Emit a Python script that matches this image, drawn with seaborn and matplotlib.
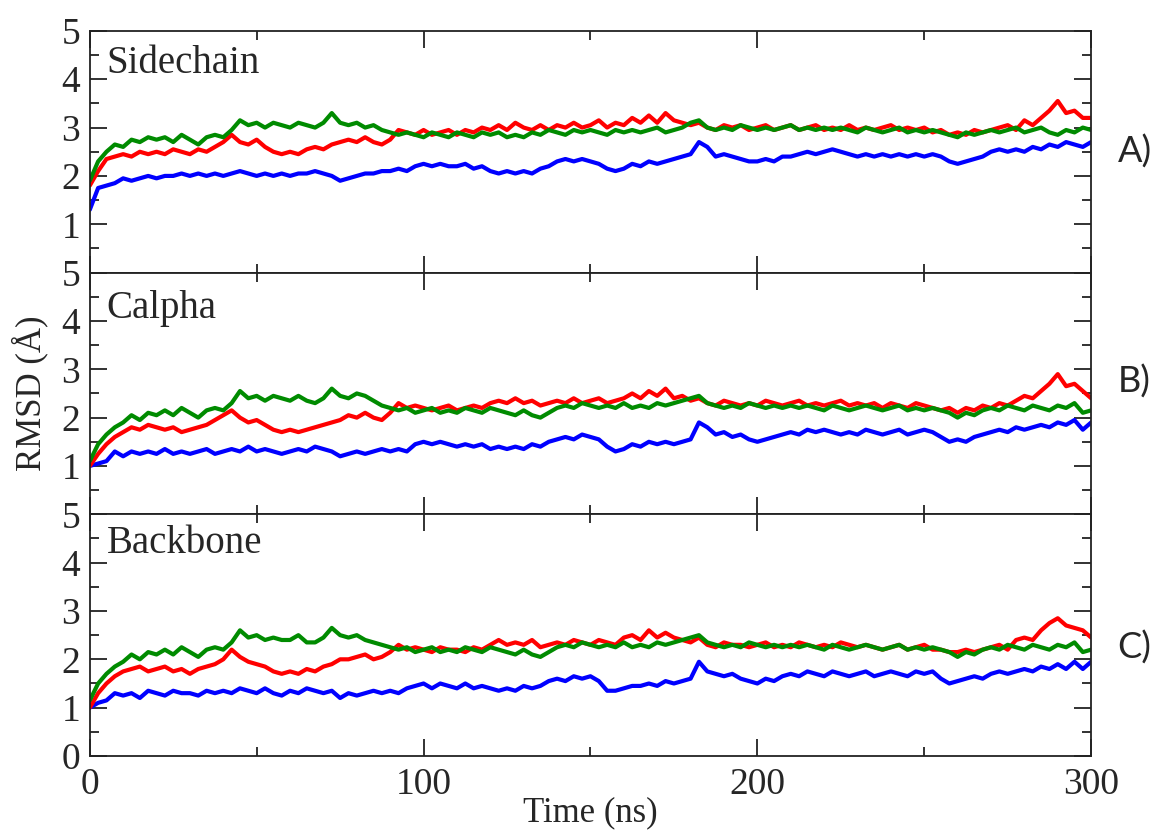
import numpy as np
import pandas as pd
import matplotlib
matplotlib.use('Agg')
import matplotlib.pyplot as plt
import seaborn as sns
from matplotlib.ticker import MultipleLocator

# time axis of the trajectories, one sample every 2.5 ns
time_ns = np.arange(0, 300.1, 2.5)

# RMSD values (Angstrom)
side_blue = [1.3, 1.75, 1.8, 1.85, 1.95, 1.9, 1.95, 2.0, 1.95, 2.0, 2.0, 2.05,
             2.0, 2.05, 2.0, 2.05, 2.0, 2.05, 2.1, 2.05, 2.0, 2.05, 2.0, 2.05,
             2.0, 2.05, 2.05, 2.1, 2.05, 2.0, 1.9, 1.95, 2.0, 2.05, 2.05, 2.1,
             2.1, 2.15, 2.1, 2.2, 2.25, 2.2, 2.25, 2.2, 2.2, 2.25, 2.15, 2.2,
             2.1, 2.05, 2.1, 2.05, 2.1, 2.05, 2.15, 2.2, 2.3, 2.35, 2.3, 2.35,
             2.3, 2.25, 2.15, 2.1, 2.15, 2.25, 2.2, 2.3, 2.25, 2.3, 2.35, 2.4,
             2.45, 2.7, 2.6, 2.4, 2.45, 2.4, 2.35, 2.3, 2.3, 2.35, 2.3, 2.4,
             2.4, 2.45, 2.5, 2.45, 2.5, 2.55, 2.5, 2.45, 2.4, 2.45, 2.4, 2.45,
             2.4, 2.45, 2.4, 2.45, 2.4, 2.45, 2.4, 2.3, 2.25, 2.3, 2.35, 2.4,
             2.5, 2.55, 2.5, 2.55, 2.5, 2.6, 2.55, 2.65, 2.6, 2.7, 2.65, 2.6,
             2.7]
side_red = [1.8, 2.1, 2.35, 2.4, 2.45, 2.4, 2.5, 2.45, 2.5, 2.45, 2.55, 2.5,
            2.45, 2.55, 2.5, 2.6, 2.7, 2.85, 2.7, 2.65, 2.75, 2.6, 2.5, 2.45,
            2.5, 2.45, 2.55, 2.6, 2.55, 2.65, 2.7, 2.75, 2.7, 2.8, 2.7, 2.65,
            2.75, 2.95, 2.9, 2.85, 2.95, 2.85, 2.9, 2.95, 2.85, 2.95, 2.9, 3.0,
            2.95, 3.05, 2.95, 3.1, 3.0, 2.95, 3.05, 2.95, 3.05, 3.0, 3.1, 3.0,
            3.05, 3.15, 3.0, 3.1, 3.05, 3.2, 3.1, 3.25, 3.1, 3.3, 3.15, 3.1,
            3.05, 3.1, 3.0, 2.95, 3.05, 3.0, 3.05, 2.95, 3.0, 3.05, 2.95, 3.0,
            3.05, 2.95, 3.0, 3.05, 2.95, 3.0, 2.95, 3.05, 2.95, 3.0, 2.95, 3.0,
            3.05, 2.95, 3.0, 2.95, 3.0, 2.9, 2.95, 2.85, 2.9, 2.85, 2.95, 2.9,
            2.95, 3.0, 3.05, 2.95, 3.15, 3.05, 3.2, 3.35, 3.55, 3.3, 3.35, 3.2,
            3.2]
side_green = [1.9, 2.3, 2.5, 2.65, 2.6, 2.75, 2.7, 2.8, 2.75, 2.8, 2.7, 2.85,
              2.75, 2.65, 2.8, 2.85, 2.8, 2.95, 3.15, 3.05, 3.1, 3.0, 3.1, 3.05,
              3.0, 3.1, 3.05, 3.0, 3.1, 3.3, 3.1, 3.05, 3.1, 3.0, 3.05, 2.95,
              2.9, 2.85, 2.9, 2.85, 2.8, 2.9, 2.85, 2.8, 2.9, 2.85, 2.8, 2.9,
              2.85, 2.9, 2.8, 2.85, 2.8, 2.9, 2.85, 2.95, 2.9, 2.85, 2.95, 2.9,
              2.95, 2.9, 2.85, 2.95, 2.9, 2.95, 2.9, 2.95, 3.0, 2.9, 2.95, 3.0,
              3.1, 3.15, 3.0, 2.95, 3.0, 2.95, 3.05, 3.0, 2.95, 3.0, 2.95, 3.0,
              3.05, 2.95, 3.0, 2.95, 3.0, 2.95, 3.0, 2.95, 2.9, 3.0, 2.95, 2.9,
              2.95, 3.0, 2.9, 2.95, 2.9, 2.95, 2.9, 2.85, 2.8, 2.9, 2.85, 2.9,
              2.95, 2.9, 2.95, 3.0, 2.9, 2.95, 3.0, 2.9, 2.85, 2.95, 2.9, 3.0,
              2.95]

calpha_blue = [1.0, 1.05, 1.1, 1.3, 1.2, 1.3, 1.25, 1.3, 1.25, 1.35, 1.25, 1.3,
               1.25, 1.3, 1.35, 1.25, 1.3, 1.35, 1.3, 1.4, 1.3, 1.35, 1.3, 1.25,
               1.3, 1.35, 1.3, 1.4, 1.35, 1.3, 1.2, 1.25, 1.3, 1.25, 1.3, 1.35,
               1.3, 1.35, 1.3, 1.45, 1.5, 1.45, 1.5, 1.45, 1.4, 1.45, 1.4, 1.45,
               1.35, 1.4, 1.35, 1.4, 1.35, 1.45, 1.4, 1.5, 1.55, 1.6, 1.55, 1.65,
               1.6, 1.55, 1.4, 1.3, 1.35, 1.45, 1.4, 1.5, 1.45, 1.5, 1.45, 1.5,
               1.55, 1.9, 1.8, 1.65, 1.7, 1.6, 1.65, 1.55, 1.5, 1.55, 1.6, 1.65,
               1.7, 1.65, 1.75, 1.7, 1.75, 1.7, 1.65, 1.7, 1.65, 1.75, 1.7, 1.65,
               1.7, 1.75, 1.65, 1.7, 1.75, 1.7, 1.6, 1.5, 1.55, 1.5, 1.6, 1.65,
               1.7, 1.75, 1.7, 1.8, 1.75, 1.8, 1.85, 1.8, 1.9, 1.85, 1.95, 1.75,
               1.9]
calpha_red = [1.0, 1.25, 1.45, 1.6, 1.7, 1.8, 1.75, 1.85, 1.8, 1.75, 1.8, 1.7,
              1.75, 1.8, 1.85, 1.95, 2.05, 2.15, 2.0, 1.9, 1.95, 1.85, 1.75, 1.7,
              1.75, 1.7, 1.75, 1.8, 1.85, 1.9, 1.95, 2.05, 2.0, 2.1, 2.0, 1.95,
              2.1, 2.3, 2.2, 2.25, 2.2, 2.15, 2.2, 2.25, 2.15, 2.2, 2.25, 2.2,
              2.3, 2.35, 2.3, 2.4, 2.3, 2.35, 2.25, 2.3, 2.35, 2.3, 2.4, 2.3,
              2.35, 2.4, 2.3, 2.35, 2.4, 2.5, 2.4, 2.55, 2.45, 2.6, 2.4, 2.45,
              2.35, 2.4, 2.3, 2.25, 2.35, 2.3, 2.25, 2.3, 2.25, 2.35, 2.3, 2.25,
              2.3, 2.35, 2.25, 2.3, 2.25, 2.3, 2.35, 2.25, 2.3, 2.25, 2.3, 2.2,
              2.3, 2.25, 2.2, 2.3, 2.25, 2.2, 2.15, 2.2, 2.1, 2.2, 2.15, 2.25,
              2.2, 2.3, 2.25, 2.35, 2.45, 2.4, 2.55, 2.7, 2.9, 2.65, 2.7, 2.55,
              2.4]
calpha_green = [1.1, 1.45, 1.65, 1.8, 1.9, 2.05, 1.95, 2.1, 2.05, 2.15, 2.05, 2.2,
                2.1, 2.0, 2.15, 2.2, 2.15, 2.3, 2.55, 2.4, 2.45, 2.35, 2.45, 2.4,
                2.35, 2.45, 2.35, 2.3, 2.4, 2.6, 2.45, 2.4, 2.5, 2.45, 2.35, 2.25,
                2.2, 2.15, 2.2, 2.1, 2.15, 2.2, 2.1, 2.15, 2.1, 2.2, 2.15, 2.1,
                2.2, 2.15, 2.1, 2.05, 2.15, 2.05, 2.0, 2.1, 2.2, 2.25, 2.2, 2.3,
                2.25, 2.2, 2.25, 2.2, 2.3, 2.2, 2.25, 2.2, 2.3, 2.25, 2.3, 2.35,
                2.4, 2.45, 2.3, 2.25, 2.2, 2.25, 2.2, 2.3, 2.25, 2.2, 2.25, 2.2,
                2.25, 2.2, 2.25, 2.2, 2.15, 2.25, 2.2, 2.15, 2.2, 2.25, 2.2, 2.15,
                2.2, 2.25, 2.15, 2.2, 2.15, 2.2, 2.15, 2.1, 2.0, 2.1, 2.05, 2.15,
                2.2, 2.15, 2.25, 2.2, 2.15, 2.25, 2.2, 2.15, 2.25, 2.2, 2.3, 2.1,
                2.15]

backbone_blue = [1.0, 1.1, 1.15, 1.3, 1.25, 1.3, 1.2, 1.35, 1.3, 1.25, 1.35, 1.3,
                 1.3, 1.25, 1.35, 1.3, 1.35, 1.3, 1.4, 1.35, 1.3, 1.4, 1.3, 1.25,
                 1.35, 1.3, 1.4, 1.35, 1.3, 1.35, 1.2, 1.3, 1.25, 1.3, 1.35, 1.3,
                 1.35, 1.3, 1.4, 1.45, 1.5, 1.4, 1.5, 1.45, 1.4, 1.5, 1.4, 1.45,
                 1.4, 1.35, 1.4, 1.35, 1.45, 1.4, 1.45, 1.55, 1.6, 1.55, 1.65, 1.6,
                 1.65, 1.55, 1.35, 1.35, 1.4, 1.45, 1.45, 1.5, 1.45, 1.55, 1.5, 1.55,
                 1.6, 1.95, 1.75, 1.7, 1.65, 1.7, 1.6, 1.55, 1.5, 1.6, 1.55, 1.65,
                 1.7, 1.65, 1.75, 1.7, 1.65, 1.75, 1.7, 1.65, 1.7, 1.75, 1.65, 1.7,
                 1.75, 1.7, 1.65, 1.75, 1.7, 1.75, 1.6, 1.5, 1.55, 1.6, 1.65, 1.6,
                 1.7, 1.75, 1.7, 1.75, 1.8, 1.75, 1.85, 1.8, 1.9, 1.8, 1.95, 1.8,
                 1.95]
backbone_red = [1.0, 1.3, 1.5, 1.65, 1.75, 1.8, 1.85, 1.75, 1.8, 1.85, 1.75, 1.8,
                1.7, 1.8, 1.85, 1.9, 2.0, 2.2, 2.05, 1.95, 1.9, 1.85, 1.75, 1.7,
                1.75, 1.7, 1.8, 1.75, 1.85, 1.9, 2.0, 2.0, 2.05, 2.1, 2.0, 2.05,
                2.15, 2.3, 2.2, 2.25, 2.2, 2.15, 2.25, 2.2, 2.2, 2.15, 2.25, 2.2,
                2.3, 2.4, 2.3, 2.35, 2.3, 2.4, 2.25, 2.3, 2.35, 2.3, 2.4, 2.35,
                2.3, 2.4, 2.35, 2.3, 2.45, 2.5, 2.4, 2.6, 2.45, 2.55, 2.45, 2.4,
                2.35, 2.45, 2.3, 2.25, 2.35, 2.3, 2.3, 2.25, 2.3, 2.35, 2.25, 2.3,
                2.25, 2.35, 2.3, 2.25, 2.3, 2.25, 2.35, 2.3, 2.25, 2.3, 2.25, 2.2,
                2.25, 2.3, 2.2, 2.25, 2.3, 2.2, 2.2, 2.15, 2.15, 2.2, 2.15, 2.2,
                2.25, 2.3, 2.2, 2.4, 2.45, 2.4, 2.6, 2.75, 2.85, 2.7, 2.65, 2.6,
                2.45]
backbone_green = [1.15, 1.5, 1.7, 1.85, 1.95, 2.1, 2.0, 2.15, 2.1, 2.2, 2.1, 2.25,
                  2.15, 2.05, 2.2, 2.25, 2.2, 2.35, 2.6, 2.45, 2.5, 2.4, 2.45, 2.4,
                  2.4, 2.5, 2.35, 2.35, 2.45, 2.65, 2.5, 2.45, 2.5, 2.4, 2.35, 2.3,
                  2.25, 2.2, 2.25, 2.15, 2.2, 2.25, 2.15, 2.2, 2.15, 2.25, 2.2, 2.15,
                  2.25, 2.2, 2.15, 2.1, 2.2, 2.1, 2.05, 2.15, 2.25, 2.3, 2.25, 2.35,
                  2.3, 2.25, 2.3, 2.25, 2.35, 2.25, 2.3, 2.25, 2.35, 2.3, 2.35, 2.4,
                  2.45, 2.5, 2.35, 2.3, 2.25, 2.3, 2.25, 2.35, 2.3, 2.25, 2.3, 2.25,
                  2.3, 2.25, 2.3, 2.25, 2.2, 2.3, 2.25, 2.2, 2.25, 2.3, 2.25, 2.2,
                  2.25, 2.3, 2.2, 2.25, 2.2, 2.25, 2.2, 2.15, 2.05, 2.15, 2.1, 2.2,
                  2.25, 2.2, 2.3, 2.25, 2.2, 2.3, 2.25, 2.2, 2.3, 2.25, 2.35, 2.15,
                  2.2]

panel_names = ['Sidechain', 'Calpha', 'Backbone']
panel_tags = ['A)', 'B)', 'C)']
panel_data = [(side_blue, side_red, side_green),
              (calpha_blue, calpha_red, calpha_green),
              (backbone_blue, backbone_red, backbone_green)]
systems = ['blue', 'red', 'green']
colors = {'blue': '#0000ff', 'red': '#ff0000', 'green': '#008b00'}

sns.set_style('ticks')
plt.rcParams['font.family'] = ['Liberation Serif', 'DejaVu Serif']

fig, axes = plt.subplots(3, 1, figsize=(11.51, 8.35), dpi=100, sharex=True)
fig.subplots_adjust(left=0.078, right=0.948, top=0.963, bottom=0.0946, hspace=0)

name_y = [0.826, 0.814, 0.839]
tag_y = [0.818, 0.543, 0.225]

for i, ax in enumerate(axes):
    blue, red, green = panel_data[i]
    df = pd.DataFrame({'time': np.tile(time_ns, 3),
                       'rmsd': np.concatenate([blue, red, green]),
                       'system': np.repeat(systems, len(time_ns))})
    sns.lineplot(data=df, x='time', y='rmsd', hue='system', hue_order=systems,
                 palette=colors, linewidth=3.0, legend=False, ax=ax,
                 estimator=None, sort=False)
    ax.set_xlim(0, 300)
    ax.set_ylim(0, 5)
    ax.set_xlabel('')
    ax.set_ylabel('')
    ax.xaxis.set_major_locator(MultipleLocator(100))
    ax.xaxis.set_minor_locator(MultipleLocator(50))
    ax.set_yticks([0, 1, 2, 3, 4, 5])
    ax.yaxis.set_minor_locator(MultipleLocator(0.5))
    if i < 2:
        ax.set_yticklabels(['', '1', '2', '3', '4', '5'])
    else:
        ax.set_yticklabels(['0', '1', '2', '3', '4', '5'])
    ax.tick_params(which='both', direction='in', top=True, right=True,
                   width=1.3, color='#222222', labelsize=27)
    ax.tick_params(which='major', length=12.5)
    ax.tick_params(which='minor', length=6.5)
    ax.tick_params(axis='y', pad=7)
    ax.tick_params(axis='x', pad=8)
    for s in ax.spines.values():
        s.set_linewidth(1.3)
        s.set_color('#222222')
    ax.text(0.017, name_y[i], panel_names[i], transform=ax.transAxes,
            fontsize=28, ha='left', va='baseline')
    fig.text(0.971, tag_y[i], panel_tags[i], fontsize=26, ha='left',
             va='center', family=['Lato', 'DejaVu Sans'])

fig.text(0.026, 0.529, 'RMSD (Å)', rotation=90, ha='center', va='center',
         fontsize=25)
fig.text(0.513, 0.026, 'Time (ns)', ha='center', va='center', fontsize=25)

plt.savefig('out.png', dpi=100)
